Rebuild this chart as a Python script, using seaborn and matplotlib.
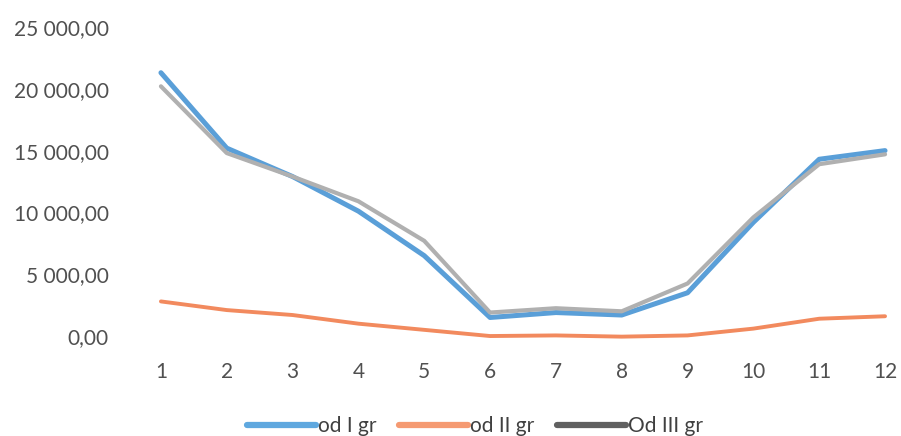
import pandas as pd
import numpy as np
import seaborn as sns
import matplotlib.pyplot as plt
from matplotlib.lines import Line2D

months = [1, 2, 3, 4, 5, 6, 7, 8, 9, 10, 11, 12]
od_i_gr = [21300, 15200, 12900, 10100, 6500, 1500, 1900, 1700, 3500, 9200, 14300, 15000]
od_ii_gr = [2800, 2100, 1700, 1000, 500, 0, 50, -50, 50, 600, 1400, 1600]
od_iii_gr = [20200, 14800, 12900, 10900, 7700, 1900, 2250, 2000, 4250, 9600, 13900, 14700]

names = ["od I gr", "od II gr", "Od III gr"]
colors = {"od I gr": "#5A9FD8", "od II gr": "#F28A5E", "Od III gr": "#B0B0B0"}
legend_colors = ["#5FA8DF", "#F59A72", "#606060"]
widths = {"od I gr": 3.6, "od II gr": 2.8, "Od III gr": 3.0}

data = pd.DataFrame({
    "month": months * 3,
    "value": od_i_gr + od_ii_gr + od_iii_gr,
    "series": [names[0]] * 12 + [names[1]] * 12 + [names[2]] * 12,
})

sns.set_style("white")
plt.rcParams["font.family"] = ["Lato", "DejaVu Sans"]

fig = plt.figure(figsize=(9.01, 4.36), dpi=100)
ax = fig.add_axes([0.164, 0.2151, 0.8329, 0.7372])

for name in names:
    sns.lineplot(data=data[data["series"] == name], x="month", y="value",
                 color=colors[name], linewidth=widths[name], ax=ax,
                 legend=False, solid_capstyle="round")

ax.set_xlim(0.8, 12.2)
ax.set_ylim(-500, 25500)
ax.set_xticks(months)
ax.set_yticks(np.arange(0, 25001, 5000))
ax.set_yticklabels([f"{v:,.2f}".replace(",", " ").replace(".", ",") for v in np.arange(0, 25001, 5000)])
ax.set_xlabel("")
ax.set_ylabel("")
ax.tick_params(axis="y", labelsize=15, colors="#505050", length=0, pad=28)
ax.tick_params(axis="x", labelsize=15, colors="#505050", length=0, pad=14)
sns.despine(ax=ax, left=True, bottom=True)

handles = [Line2D([0], [0], color=c, linewidth=4.5, solid_capstyle="round") for c in legend_colors]
fig.legend(handles, names, loc="center", bbox_to_anchor=(0.527, 0.022), ncol=3,
           frameon=False, fontsize=15, handlelength=3.3, handletextpad=0.1,
           columnspacing=1.1, labelcolor="#404040")

fig.savefig("out.png", dpi=100)
